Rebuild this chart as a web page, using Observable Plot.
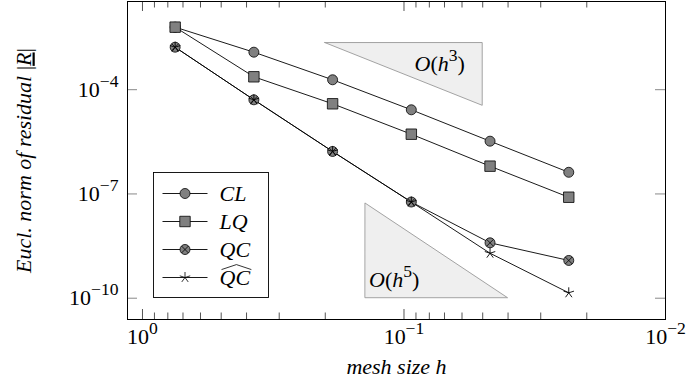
<!DOCTYPE html>
<html><head><meta charset="utf-8">
<script src="https://cdn.jsdelivr.net/npm/d3@7"></script>
<script src="https://cdn.jsdelivr.net/npm/@observablehq/plot@0.6"></script>
<style>body{margin:0;background:#fff}</style>
</head><body><div id="chart"></div>
<script>
// ---- data ----
const meshSize = [0.75, 0.375, 0.1875, 0.09375, 0.046875, 0.0234375];
const seriesNames = ["CL", "LQ", "QC", "QCHat"];
const residualCL = [6.3e-3, 1.2e-3, 1.93e-4, 2.64e-5, 3.3e-6, 4.2e-7];
const residualLQ = [6.3e-3, 2.35e-4, 3.93e-5, 5.24e-6, 6.3e-7, 8.05e-8];
const residualQC = [1.67e-3, 5.12e-5, 1.67e-6, 5.86e-8, 3.93e-9, 1.22e-9];
const residualQCHat = [1.67e-3, 5.12e-5, 1.67e-6, 5.86e-8, 1.97e-9, 1.43e-10];
const xMajorTicks = [1, 0.1, 0.01];
const xMinorTicks = [0.9, 0.8, 0.7, 0.6, 0.5, 0.4, 0.3, 0.2, 0.09, 0.08, 0.07, 0.06, 0.05, 0.04, 0.03, 0.02];
const yMajorTicks = [1e-4, 1e-7, 1e-10];
const triangle3X = [0.2, 0.05];
const triangle3Y = [2.2e-3, 3.44e-5];
const triangle5X = [0.14, 0.04];
const triangle5Y = [5.25e-8, 1e-10];
const triangleLabels = ["O(h^{3})", "O(h^{5})"];
const triangleLabelX = [0.073, 0.109];
const triangleLabelY = [5.6e-4, 3.4e-10];

// ---- build tables ----
const residuals = {CL: residualCL, LQ: residualLQ, QC: residualQC, QCHat: residualQCHat};
const table = seriesNames.flatMap(s => meshSize.map((h, i) => ({series: s, h, r: residuals[s][i]})));
const bySeries = s => table.filter(d => d.series === s);
const tri3 = [{x: triangle3X[0], y1: triangle3Y[0], y2: triangle3Y[0]}, {x: triangle3X[1], y1: triangle3Y[1], y2: triangle3Y[0]}];
const tri5 = [{x: triangle5X[0], y1: triangle5Y[1], y2: triangle5Y[0]}, {x: triangle5X[1], y1: triangle5Y[1], y2: triangle5Y[1]}];
const triLabels = triangleLabels.map((t, i) => ({t, x: triangleLabelX[i], y: triangleLabelY[i]}));

// ---- symbols ----
const symCircleX = {draw(ctx, size) {
  const r = Math.sqrt(size / Math.PI), a = r * Math.SQRT1_2;
  ctx.moveTo(r, 0); ctx.arc(0, 0, r, 0, 2 * Math.PI);
  ctx.moveTo(-a, -a); ctx.lineTo(a, a); ctx.moveTo(-a, a); ctx.lineTo(a, -a);
}};
const symStar = {draw(ctx, size) {
  const r = Math.sqrt(size / Math.PI);
  for (let k = 0; k < 5; k++) {
    const ang = -Math.PI / 2 + k * 2 * Math.PI / 5;
    ctx.moveTo(0, 0); ctx.lineTo(r * Math.cos(ang), r * Math.sin(ang));
  }
}};

const W = 689, H = 390, mL = 127, mR = 24, mT = 1, mB = 71;
const plotW = W - mL - mR, plotH = H - mT - mB;
const FS = 22;
const gray = "#808080";
const font = "'Liberation Serif', 'DejaVu Serif', serif";

const chart = Plot.plot({
  width: W, height: H,
  marginLeft: mL, marginRight: mR, marginTop: mT, marginBottom: mB,
  style: {fontFamily: font, fontSize: FS + "px", background: "white", overflow: "visible"},
  x: {type: "log", domain: [1.141, 0.01], axis: null},
  y: {type: "log", domain: [2.44e-11, 3.45e-2], axis: null},
  marks: [
    Plot.areaY(tri3, {x: "x", y1: "y1", y2: "y2", fill: "#efefef", stroke: "#999", strokeWidth: 0.9}),
    Plot.areaY(tri5, {x: "x", y1: "y1", y2: "y2", fill: "#efefef", stroke: "#999", strokeWidth: 0.9}),
    Plot.text(triLabels, {x: "x", y: "y", text: "t", fontSize: FS, ariaDescription: "richmath"}),
    // ticks
    Plot.ruleX(xMajorTicks, {x: d => d, insetTop: plotH - 10, stroke: "#555"}),
    Plot.ruleX(xMajorTicks, {x: d => d, insetBottom: plotH - 10, stroke: "#555"}),
    Plot.ruleX(xMinorTicks, {x: d => d, insetTop: plotH - 6.5, stroke: "#555"}),
    Plot.ruleX(xMinorTicks, {x: d => d, insetBottom: plotH - 6.5, stroke: "#555"}),
    Plot.ruleY(yMajorTicks, {y: d => d, insetRight: plotW - 10, stroke: "#888"}),
    Plot.ruleY(yMajorTicks, {y: d => d, insetLeft: plotW - 10, stroke: "#888"}),
    Plot.frame({stroke: "black", strokeWidth: 1}),
    // tick labels
    Plot.text(xMajorTicks, {x: d => d, frameAnchor: "bottom", dy: 24, text: d => "10^{" + Math.round(Math.log10(d)) + "}", fontSize: FS, ariaDescription: "richmath"}),
    Plot.text(yMajorTicks, {y: d => d, frameAnchor: "left", dx: -9, textAnchor: "end", text: d => "10^{" + Math.round(Math.log10(d)) + "}", fontSize: FS, ariaDescription: "richmath"}),
    // axis labels
    Plot.text(["mesh size h"], {frameAnchor: "bottom", dy: 54, text: d => d, fontSize: FS, fontStyle: "italic", ariaDescription: "xlabel"}),
    Plot.text(["Eucl. norm of residual |R|"], {frameAnchor: "left", textAnchor: "middle", dx: -104, rotate: -90, text: d => d, fontSize: FS, fontStyle: "italic", ariaDescription: "ylabel"}),
    // series lines
    Plot.line(table, {x: "h", y: "r", z: "series", stroke: "black", strokeWidth: 0.9}),
    Plot.dot(bySeries("CL"), {x: "h", y: "r", symbol: "circle", r: 5, fill: gray, stroke: "black", strokeWidth: 0.8}),
    Plot.dot(bySeries("LQ"), {x: "h", y: "r", symbol: "square", r: 5.9, fill: gray, stroke: "black", strokeWidth: 0.8}),
    Plot.dot(bySeries("QC"), {x: "h", y: "r", symbol: symCircleX, r: 5, fill: gray, stroke: "black", strokeWidth: 0.8}),
    Plot.dot(bySeries("QCHat"), {x: "h", y: "r", symbol: symStar, r: 5.5, fill: "none", stroke: "black", strokeWidth: 0.9})
  ]
});
document.getElementById("chart").appendChild(chart);

// ---- rich text (superscripts, math italic) ----
const NS = "http://www.w3.org/2000/svg";
const SUP = 0.8, RAISE = 0.45;
function rich(el, str, size) {
  el.textContent = "";
  let back = 0;
  const re = /\^\{([^}]*)\}|[A-Za-z]+|[^A-Za-z^]+/g;
  let m;
  while ((m = re.exec(str))) {
    const t = document.createElementNS(NS, "tspan");
    if (m[1] !== undefined) {
      t.textContent = m[1].replace(/-/g, "\u2212");
      t.setAttribute("font-size", size * SUP);
      t.setAttribute("dy", -size * RAISE);
      t.setAttribute("font-style", "normal");
      back = size * RAISE;
    } else {
      t.textContent = m[0];
      if (back) { t.setAttribute("dy", back); back = 0; }
      t.setAttribute("font-style", /[A-Za-z]/.test(m[0]) ? "italic" : "normal");
    }
    el.appendChild(t);
  }
}
chart.querySelectorAll('g[aria-description="richmath"] text').forEach(el => rich(el, el.textContent, FS));
chart.querySelectorAll('g[aria-description="ylabel"] text').forEach(el => {
  el.textContent = "";
  const parts = [["Eucl. norm of residual ", "italic", null], ["|", "normal", null], ["R", "italic", "underline"], ["|", "normal", null]];
  for (const [s, st, dec] of parts) {
    const t = document.createElementNS(NS, "tspan");
    t.textContent = s; t.setAttribute("font-style", st);
    if (dec) t.setAttribute("text-decoration", dec);
    el.appendChild(t);
  }
});

// ---- legend ----
const svg = d3.select(chart);
const lg = svg.append("g").attr("font-family", font).attr("font-size", FS).attr("text-anchor", "start");
const lx = 153.5, ly = 172.5, lw = 115, lh = 125;
lg.append("rect").attr("x", lx).attr("y", ly).attr("width", lw).attr("height", lh)
  .attr("fill", "white").attr("stroke", "black").attr("stroke-width", 0.9);
const legendItems = [
  {name: "CL", sym: d3.symbol(d3.symbolCircle, Math.PI * 25)(), fill: gray},
  {name: "LQ", sym: d3.symbol(d3.symbolSquare, Math.PI * 5.9 * 5.9)(), fill: gray},
  {name: "QC", sym: d3.symbol(symCircleX, Math.PI * 25)(), fill: gray},
  {name: "QC", sym: d3.symbol(symStar, Math.PI * 5.5 * 5.5)(), fill: "none", hat: true}
];
legendItems.forEach((it, i) => {
  const cy = ly + 21 + i * 28;
  const row = lg.append("g");
  row.append("line").attr("x1", lx + 9).attr("x2", lx + 54).attr("y1", cy).attr("y2", cy)
    .attr("stroke", "black").attr("stroke-width", 0.9);
  row.append("path").attr("d", it.sym).attr("transform", `translate(${lx + 31.5},${cy})`)
    .attr("fill", it.fill).attr("stroke", "black").attr("stroke-width", 0.8);
  const tx = row.append("text").attr("x", lx + 66).attr("y", cy).attr("dy", "0.35em")
    .attr("text-anchor", "start").attr("font-style", "italic").text(it.name);
  if (it.hat) {
    const bb = tx.node().getBBox();
    const x0 = bb.x + 2, x1 = bb.x + bb.width + 1, yb = cy - FS * 0.36;
    row.append("path").attr("d", `M${x0},${yb}L${(x0 + x1) / 2},${yb - 5}L${x1},${yb}`)
      .attr("fill", "none").attr("stroke", "black").attr("stroke-width", 0.8);
  }
});
</script>
</body></html>
